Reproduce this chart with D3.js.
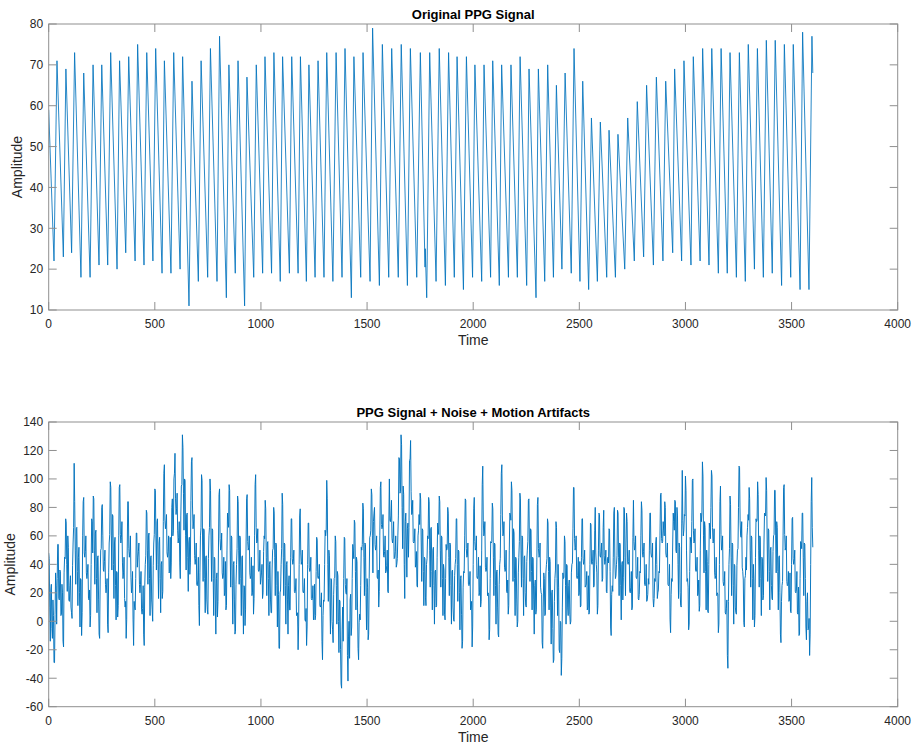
<!DOCTYPE html>
<html>
<head>
<meta charset="utf-8">
<script src="https://cdn.jsdelivr.net/npm/d3@7"></script>
<style>
  html, body { margin: 0; padding: 0; background: #ffffff; }
  svg { display: block; font-family: "Liberation Sans", Arial, Helvetica, sans-serif; }
</style>
</head>
<body>
<svg id="chart" width="916" height="747"></svg>
<script>
// ---------------- DATA ----------------
const xTicks = [0, 500, 1000, 1500, 2000, 2500, 3000, 3500, 4000];
const origYTicks = [10, 20, 30, 40, 50, 60, 70, 80];
const noisyYTicks = [-60, -40, -20, 0, 20, 40, 60, 80, 100, 120, 140];

const titles = ["Original PPG Signal", "PPG Signal + Noise + Motion Artifacts"];
const xLabel = "Time";
const yLabel = "Amplitude";

// Original PPG: breakpoints (troughs / peaks)
const origTime = [
  0, 25, 39, 69, 81, 108, 122, 152, 165, 195, 209, 237, 250, 278, 292, 322, 334, 363, 377,
  407, 419, 449, 462, 491, 504, 534, 545, 576, 589, 619, 631, 661, 675, 705, 718, 749, 762,
  793, 805, 837, 849, 879, 892, 923, 934, 966, 978, 1008, 1019, 1050, 1061, 1091, 1102,
  1134, 1145, 1175, 1186, 1214, 1226, 1255, 1269, 1297, 1310, 1339, 1354, 1382, 1396,
  1426, 1438, 1470, 1481, 1514, 1526, 1558, 1572, 1602, 1616, 1647, 1661, 1690, 1704,
  1734, 1751, 1773, 1774, 1781, 1795, 1825, 1840, 1869, 1884, 1911, 1924, 1954, 1968,
  1997, 2008, 2040, 2051, 2082, 2092, 2123, 2134, 2166, 2178, 2208, 2221, 2252, 2263,
  2296, 2307, 2337, 2351, 2378, 2392, 2418, 2433, 2462, 2475, 2503, 2516, 2544, 2557,
  2585, 2599, 2629, 2640, 2670, 2682, 2714, 2728, 2759, 2773, 2803, 2817, 2849, 2863,
  2894, 2907, 2940, 2949, 2982, 2993, 3026, 3037, 3069, 3081, 3111, 3124, 3155, 3168,
  3197, 3210, 3240, 3254, 3282, 3296, 3325, 3339, 3367, 3381, 3409, 3423, 3453, 3466,
  3496, 3508, 3540, 3552, 3582, 3596, 3600
];
const origValue = [
  59, 22, 71, 23, 69, 24, 73, 18, 68, 18, 70, 21, 70, 21, 73, 20, 71, 24, 72,
  22, 75, 21, 73, 22, 74, 19, 71, 19, 73, 20, 72, 11, 66, 17, 71, 18, 74,
  17, 77, 13, 70, 19, 71, 11, 67, 18, 70, 19, 72, 19, 73, 17, 72,
  19, 72, 19, 72, 17, 70, 18, 71, 18, 73, 17, 73, 18, 74,
  13, 72, 18, 73, 17, 79, 16, 75, 18, 74, 18, 75, 16, 74,
  18, 73, 20.5, 25, 13, 73, 17, 74, 16, 73, 18, 72, 15, 72,
  18, 70, 17, 70, 18, 71, 16, 70, 18, 70, 18, 72, 16, 69,
  13, 69, 17, 70, 18, 65, 20, 68, 19, 74, 17, 66, 15, 57,
  17, 56, 18, 54, 18, 53, 20, 57, 22, 61, 23, 65, 21, 67,
  22, 66, 24, 69, 22, 71, 21, 72, 22, 74, 21, 74, 19, 74,
  19, 73, 18, 73, 17, 75, 20, 74, 18, 76, 19, 76, 16, 75,
  18, 75, 15, 78, 15, 77, 68
];

// Noisy PPG: values at t = 0, 5, 10, ... (read/)
const noisyStep = 5;
const noisyValue = [
  48,10,22,-5,15,-29,5,25,30,54,15,35,5,20,-18,45,72,40,60,15,
  25,10,2,55,111,50,65,35,45,20,30,-10,60,87,45,60,30,40,15,-4,
  40,70,88,50,62,30,45,15,-12,50,80,60,35,50,20,30,-8,55,98,60,
  75,40,55,25,35,3,60,96,55,70,30,45,10,-12,50,84,45,60,20,35,
  -17,10,30,62,45,55,20,35,5,25,-17,40,78,50,60,30,45,15,0,55,
  93,60,70,40,55,30,40,16,70,110,65,75,45,60,35,30,80,60,100,118,
  75,90,55,70,30,95,131,90,100,60,75,45,55,33,85,115,65,75,40,55,
  25,45,-3,60,103,55,65,30,45,15,5,60,100,55,65,30,45,15,30,3,
  55,93,50,62,30,45,20,8,50,70,96,50,60,25,40,15,-7,40,88,50,
  60,30,45,15,25,-3,55,89,50,60,30,45,20,5,60,103,55,65,35,50,
  30,40,20,60,85,45,55,30,40,15,6,50,80,45,55,25,35,-19,20,40,
  90,45,55,25,40,15,25,8,45,72,40,50,20,30,5,-20,40,79,40,50,
  20,30,0,-17,40,69,35,45,15,25,5,1,35,57,30,40,10,20,-27,15,
  40,60,99,40,50,15,30,0,-15,30,60,25,35,0,15,-20,-47,10,30,58,
  20,30,-42,0,15,-10,30,50,71,35,45,10,-27,5,25,50,83,45,55,20,
  30,-13,30,60,93,60,70,80,50,60,30,10,60,98,65,75,45,60,35,50,
  20,100,70,85,55,70,45,60,40,60,115,90,131,80,95,40,70,55,65,45,
  113,127,75,85,55,65,40,25,60,75,90,55,65,35,45,17,40,60,87,50,
  65,35,50,25,35,10,45,65,88,50,60,30,40,5,30,50,80,45,55,25,
  35,10,0,40,72,40,50,20,30,5,-14,35,60,85,45,55,25,35,10,-18,
  40,87,50,60,30,45,20,10,50,109,60,70,35,45,20,-13,30,55,83,45,
  55,25,35,10,-11,40,75,110,60,70,35,50,20,5,50,75,98,55,65,30,
  45,15,0,45,90,50,60,30,45,20,10,50,85,55,65,35,45,15,25,5,
  45,87,45,55,20,-15,10,30,5,40,72,35,45,10,20,-5,-27,30,70,30,
  40,-20,0,-38,10,30,60,25,40,10,25,5,0,40,65,94,50,60,30,45,
  20,10,45,72,40,50,25,35,10,5,40,68,40,50,25,80,40,5,50,75,
  45,55,30,78,40,50,20,45,65,35,-10,25,45,80,30,40,78,45,55,25,
  40,15,80,45,55,70,40,50,20,35,10,85,50,60,30,45,15,35,60,78,
  45,55,25,40,15,30,50,76,45,55,10,30,55,40,20,35,60,90,55,70,
  60,80,45,55,25,40,-8,30,55,70,85,50,80,40,55,20,10,106,60,75,
  102,50,30,-6,35,55,70,100,55,65,35,45,20,7,50,70,112,60,70,35,
  50,7,40,65,80,102,55,65,30,45,20,-8,40,95,50,60,25,35,5,15,
  -33,40,88,45,55,25,40,10,5,50,80,108,60,70,35,-1,30,45,60,75,
  94,50,60,30,40,-4,45,70,98,50,60,30,45,15,55,75,101,55,65,35,
  50,25,15,60,92,60,70,35,45,20,-15,25,60,96,50,60,25,35,15,7,
  40,73,40,50,20,35,5,-10,30,55,76,45,55,30,-13,20,-5,-24,40,101,
  52
];
// Noisy PPG: values at t = 2.5, 7.5, 12.5, ... (read/)
const noisyHalfValue = [
  44,-14,26,-12,4,-29,34,-2,54,16,36,4,26,-14,34,44,69,21,52,14,
  32,6,39,66,84,26,66,11,52,-4,29,6,84,48,49,34,34,16,22,4,
  72,48,86,26,64,6,46,-9,29,51,82,36,42,26,24,-2,34,61,94,36,
  74,16,59,1,34,11,94,61,59,41,34,16,14,1,84,51,49,31,24,1,
  14,8,62,38,49,26,26,8,9,-9,24,46,76,26,62,4,46,8,39,61,
  92,36,72,16,59,6,42,21,104,71,69,48,49,34,59,41,86,64,104,86,
  79,64,59,41,74,96,122,64,99,36,76,21,59,41,112,81,69,46,44,26,
  29,11,34,66,99,28,64,6,46,8,44,66,92,28,64,4,44,-9,34,14,
  89,58,52,34,32,18,42,11,76,66,92,24,59,-2,42,-9,26,51,84,26,
  59,4,46,-9,24,8,86,56,52,34,32,18,39,16,96,66,56,36,36,26,
  34,16,49,58,79,18,56,4,42,6,36,51,76,18,54,-4,19,-19,22,51,
  82,18,54,-2,42,-9,32,8,72,44,42,21,22,4,6,-4,74,48,42,21,
  22,1,9,-4,69,38,36,16,16,1,26,4,59,31,32,11,12,-14,4,14,
  64,64,86,14,46,-9,29,-6,19,31,56,-2,32,-22,14,-44,-6,-14,59,26,
  19,-24,-11,-26,19,-4,54,44,69,8,42,-19,-1,1,52,54,79,18,54,-6,
  24,-9,59,64,89,34,76,54,52,31,36,21,94,68,66,46,49,34,39,21,
  69,71,74,58,59,44,49,38,44,74,114,91,124,51,89,16,76,31,69,66,
  114,91,76,56,56,38,49,24,64,68,86,28,64,11,44,11,44,58,84,24,
  66,8,52,-2,36,11,69,61,84,24,59,4,36,1,54,51,76,18,54,-2,
  36,1,32,44,72,14,49,-6,32,-19,24,34,86,51,46,26,26,8,14,-4,
  79,56,52,31,32,18,39,14,96,71,62,38,36,18,19,-6,56,56,79,18,
  54,-2,36,-9,26,44,104,74,62,38,36,21,29,11,76,71,92,28,62,4,
  44,-4,34,56,86,24,59,4,46,11,42,56,86,28,64,8,44,-9,29,8,
  82,51,46,24,19,-19,34,4,34,44,69,8,42,-16,22,-29,14,36,66,4,
  24,-22,-1,-26,34,31,56,-2,39,4,29,-2,34,41,94,58,52,31,32,18,
  42,11,72,44,42,24,26,8,32,6,69,41,42,24,64,48,34,11,76,46,
  49,28,66,46,42,21,44,41,64,-4,19,21,76,41,32,46,76,18,54,1,
  42,31,79,18,76,41,42,21,24,8,59,56,52,31,32,16,19,34,84,48,
  49,26,26,14,19,26,76,48,46,16,16,28,59,16,22,34,89,58,56,64,
  84,48,46,26,26,1,19,28,76,64,84,48,74,16,52,11,69,71,64,74,
  92,28,24,-2,59,48,99,64,56,36,36,18,29,11,76,76,102,34,66,8,
  42,6,69,58,106,66,56,34,32,18,19,-2,84,61,52,28,26,6,9,-24,
  14,51,82,18,54,-2,39,6,39,51,109,71,59,38,29,-4,32,36,66,71,
  86,24,59,1,29,4,72,71,89,24,59,4,44,18,76,74,92,28,64,8,
  52,16,49,61,92,34,66,8,46,-9,14,28,94,61,52,28,26,14,34,6,
  72,44,42,21,22,6,24,-9,56,51,76,18,54,-4,14,-6,2,-9,84,66
];

// ---------------- DRAWING ----------------
const svg = d3.select("#chart");
const W = 916, H = 747;
svg.append("rect").attr("width", W).attr("height", H).attr("fill", "#ffffff");

const noisyPts = [];
noisyValue.forEach((v, i) => {
  noisyPts.push([i * noisyStep, v]);
  if (i < noisyHalfValue.length) noisyPts.push([i * noisyStep + noisyStep / 2, noisyHalfValue[i]]);
});

const left = 48.7, right = 897.7;
const panels = [
  { top: 24, bottom: 310, domain: [10, 80], ticks: origYTicks,
    pts: origTime.map((t, i) => [t, origValue[i]]), title: titles[0], ylabX: 21.5, lw: 0.85 },
  { top: 422, bottom: 706.7, domain: [-60, 140], ticks: noisyYTicks,
    pts: noisyPts, title: titles[1], ylabX: 14.5, lw: 0.95 }
];

const axisColor = "#8f8f8f";
const textColor = "#262626";
const lineColor = "#0072BD";
const tickLen = 8;

panels.forEach(p => {
  const x = d3.scaleLinear().domain([0, 4000]).range([left, right]);
  const y = d3.scaleLinear().domain(p.domain).range([p.bottom, p.top]);
  const g = svg.append("g");

  const clipId = "clip" + p.top;
  svg.append("clipPath").attr("id", clipId).append("rect")
    .attr("x", left).attr("y", p.top).attr("width", right - left).attr("height", p.bottom - p.top);

  g.append("path")
    .datum(p.pts)
    .attr("clip-path", `url(#${clipId})`)
    .attr("fill", "none")
    .attr("stroke", lineColor)
    .attr("stroke-width", p.lw)
    .attr("stroke-linejoin", "round")
    .attr("d", d3.line().x(d => x(d[0])).y(d => y(d[1])));

  g.append("rect")
    .attr("x", left).attr("y", p.top)
    .attr("width", right - left).attr("height", p.bottom - p.top)
    .attr("fill", "none").attr("stroke", axisColor).attr("stroke-width", 1);

  xTicks.forEach(t => {
    const xx = x(t);
    g.append("line").attr("x1", xx).attr("x2", xx).attr("y1", p.bottom).attr("y2", p.bottom - tickLen)
      .attr("stroke", axisColor);
    g.append("line").attr("x1", xx).attr("x2", xx).attr("y1", p.top).attr("y2", p.top + tickLen)
      .attr("stroke", axisColor);
    g.append("text").attr("x", xx).attr("y", p.bottom + 17.8)
      .attr("text-anchor", "middle").attr("font-size", 12).attr("fill", textColor).text(t);
  });

  p.ticks.forEach(t => {
    const yy = y(t);
    g.append("line").attr("x1", left).attr("x2", left + tickLen).attr("y1", yy).attr("y2", yy)
      .attr("stroke", axisColor);
    g.append("line").attr("x1", right).attr("x2", right - tickLen).attr("y1", yy).attr("y2", yy)
      .attr("stroke", axisColor);
    g.append("text").attr("x", left - 5.5).attr("y", yy).attr("dy", "0.36em")
      .attr("text-anchor", "end").attr("font-size", 12).attr("fill", textColor).text(t);
  });

  g.append("text").attr("x", (left + right) / 2).attr("y", p.top - 5)
    .attr("text-anchor", "middle").attr("font-size", 13).attr("font-weight", "bold")
    .attr("fill", "#000000").text(p.title);

  g.append("text").attr("x", (left + right) / 2).attr("y", p.bottom + 35)
    .attr("text-anchor", "middle").attr("font-size", 14).attr("fill", textColor).text(xLabel);

  g.append("text")
    .attr("transform", `translate(${p.ylabX},${(p.top + p.bottom) / 2}) rotate(-90)`)
    .attr("text-anchor", "middle").attr("font-size", 14).attr("fill", textColor).text(yLabel);
});
</script>
</body>
</html>
